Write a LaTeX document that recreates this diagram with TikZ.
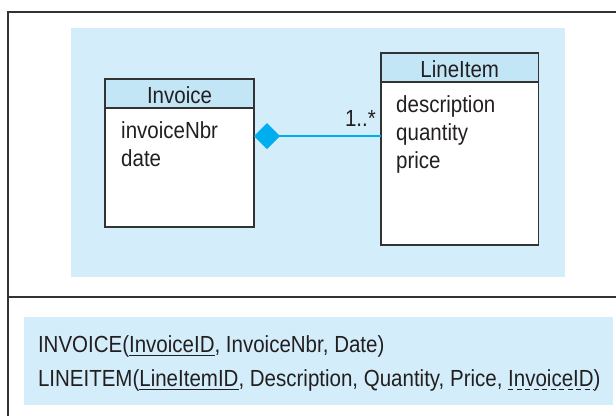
\documentclass[tikz,border=0pt]{standalone}
\usepackage{fontspec}
\setmainfont{Liberation Sans}[FakeStretch=0.88]
\usepackage{tikz}
\usetikzlibrary{positioning,arrows.meta}
\definecolor{umlpanel}{HTML}{D3EEFA}
\definecolor{umlhead}{HTML}{C3E6F7}
\definecolor{umlline}{HTML}{333333}
\definecolor{umltext}{HTML}{231F20}
\definecolor{umlagg}{HTML}{00AEEF}

\begin{document}
\begin{tikzpicture}[x=1pt, y=-1pt, font=\fontsize{23.3}{28}\selectfont, text=umltext,
  head/.style={draw=umlline, line width=1.2pt, fill=umlhead, minimum height=29pt,
    text height=20.8pt, text depth=1.2pt, inner sep=0pt, outer sep=0pt, anchor=north west},
  body/.style={draw=umlline, line width=1.2pt, fill=white, inner sep=0pt, outer sep=0pt},
  attr/.style={inner sep=0pt, anchor=base west},
  rel/.style={inner sep=0pt, outer sep=0pt, anchor=base west},
  keyline/.style={umltext, line width=1pt}]
  \useasboundingbox (0,0) rectangle (616,416);
  % frame and the two panels
  \fill[white] (0,0) rectangle (616,416);
  \draw[umlline, line width=2.2pt] (616,12) -- (8,12) -- (8,416);
  \draw[umlline, line width=1.5pt] (8,297) -- (616,297);
  \fill[umlpanel] (71,28) rectangle (565,277);
  \fill[umlpanel] (24,317) rectangle (613,405);
  % class diagram
  \node[head, minimum width=149pt] (inv-head) at (105,79) {Invoice};
  \node[body, minimum width=149pt, minimum height=119pt, below=0pt of inv-head] (inv-body) {};
  \foreach \a [count=\i] in {invoiceNbr,date}
    \node[attr] (inv-attr-\i) at ([shift={(16,{30+28.5*(\i-1)})}]inv-head.south west) {\a};
  \node[head, minimum width=157.5pt] (li-head) at (381,53) {LineItem};
  \node[body, minimum width=157.5pt, minimum height=163pt, below=0pt of li-head] (li-body) {};
  \foreach \a [count=\i] in {description,quantity,price}
    \node[attr] (li-attr-\i) at ([shift={(15,{30.5+28.2*(\i-1)})}]li-head.south west) {\a};
  \coordinate (agg) at ([yshift=-28pt]inv-head.south east);
  \coordinate (li-end) at (agg -| li-body.west);
  \draw[umlagg, line width=1.2pt, {Diamond[length=26pt, width=26pt]}-] (agg) -- (li-end);
  \node[anchor=base east, inner sep=0pt] (mult) at ([shift={(-5,-10)}]li-end) {1..*};
  % relations
  \node[rel] (inv-a) at (38,352) {INVOICE(};
  \node[rel] (inv-pk) at (inv-a.base east) {InvoiceID};
  \node[rel] (inv-b) at (inv-pk.base east) {, InvoiceNbr, Date)};
  \node[rel] (li-a) at (38,386) {LINEITEM(};
  \node[rel] (li-pk) at (li-a.base east) {LineItemID};
  \node[rel] (li-b) at (li-pk.base east) {, Description, Quantity, Price,};
  \node[rel] (li-fk) at ([xshift=5.7pt]li-b.base east) {InvoiceID};
  \node[rel] (li-c) at (li-fk.base east) {)};
  \draw[keyline] ([yshift=-3pt]inv-pk.base west) -- ([yshift=-3pt]inv-pk.base east);
  \draw[keyline] ([yshift=-3pt]li-pk.base west) -- ([yshift=-3pt]li-pk.base east);
  \draw[keyline, dash pattern=on 5pt off 3.5pt] ([yshift=-3pt]li-fk.base west) -- ([yshift=-3pt]li-fk.base east);
\end{tikzpicture}
\end{document}
